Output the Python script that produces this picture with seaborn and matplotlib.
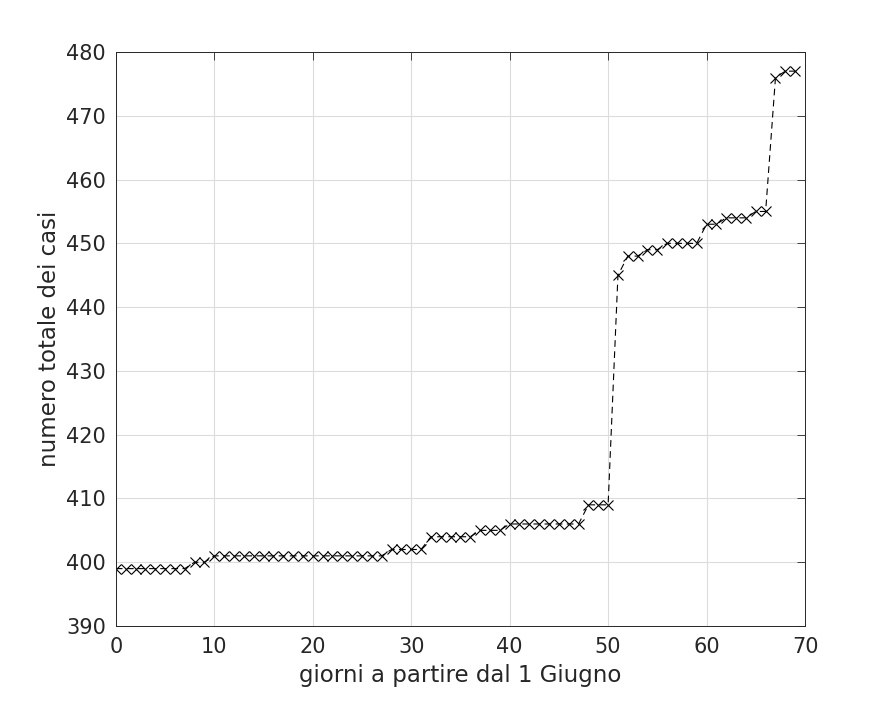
import numpy as np
import pandas as pd
import matplotlib
matplotlib.use("Agg")
import matplotlib.pyplot as plt
import seaborn as sns

days = list(range(70))
casi = [399, 399, 399, 399, 399, 399, 399, 399, 400, 400,
        401, 401, 401, 401, 401, 401, 401, 401, 401, 401,
        401, 401, 401, 401, 401, 401, 401, 401, 402, 402,
        402, 402, 404, 404, 404, 404, 404, 405, 405, 405,
        406, 406, 406, 406, 406, 406, 406, 406, 409, 409,
        409, 445, 448, 448, 449, 449, 450, 450, 450, 450,
        453, 453, 454, 454, 454, 455, 455, 476, 477, 477]
x_ticks = [0, 10, 20, 30, 40, 50, 60, 70]
y_ticks = [390, 400, 410, 420, 430, 440, 450, 460, 470, 480]

df = pd.DataFrame({"giorno": days, "casi": casi})

sns.set_style("whitegrid")
plt.rcParams['font.family'] = ['DejaVu Sans']

fig = plt.figure(figsize=(8.91, 7.03), dpi=100)
ax = fig.add_axes([0.130, 0.1095, 0.7735, 0.8165])

sns.lineplot(data=df, x="giorno", y="casi", ax=ax, color="black",
             linestyle=(0, (6, 4)), linewidth=0.8, marker="x",
             markersize=7, markeredgewidth=0.8, markeredgecolor="black")

ax.set_xlim(0, 70)
ax.set_ylim(390, 480)
ax.set_xticks(x_ticks)
ax.set_yticks(y_ticks)
ax.tick_params(axis="both", labelsize=15, colors="#262626", direction="in",
               length=6, width=0.6, top=True, right=True)
ax.tick_params(axis="y", pad=7)
ax.tick_params(axis="x", pad=8)
ax.grid(True, color="#dcdcdc", linewidth=0.8)
for s in ax.spines.values():
    s.set_visible(True)
    s.set_color("#262626")
    s.set_linewidth(0.7)

ax.set_xlabel("giorni a partire dal 1 Giugno", fontsize=16.5, color="#262626", labelpad=5)
ax.set_ylabel("numero totale dei casi", fontsize=16.5, color="#262626", labelpad=4)

fig.savefig("out.png", dpi=100, facecolor="white")
